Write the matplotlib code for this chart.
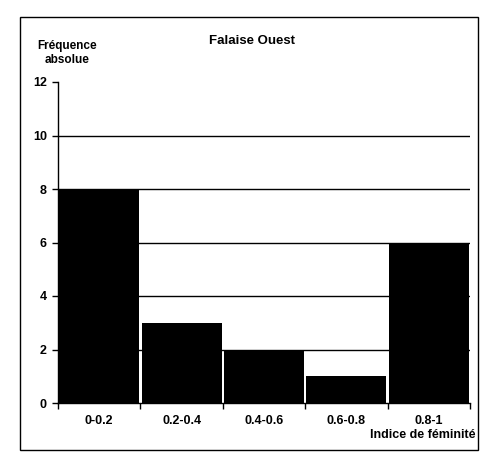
import matplotlib
matplotlib.use("Agg")
import matplotlib.pyplot as plt
from matplotlib.patches import Rectangle

categories = ["0-0.2", "0.2-0.4", "0.4-0.6", "0.6-0.8", "0.8-1"]
values = [8, 3, 2, 1, 6]
yticks = [0, 2, 4, 6, 8, 10, 12]

plt.rcParams['font.family'] = ['Liberation Sans', 'DejaVu Sans']

fig = plt.figure(figsize=(4.84, 4.53), dpi=100)
ax = fig.add_axes([58/484, 1-403/453, (470-58)/484, (403-82)/453])

x = list(range(len(categories)))
ax.bar(x, values, width=0.97, color='black', zorder=3)
ax.set_xlim(-0.5, len(categories) - 0.5)
ax.set_ylim(0, 12)
ax.set_yticks(yticks)
ax.set_yticklabels([str(v) for v in yticks], fontsize=9, fontweight='bold')
ax.set_xticks([i - 0.5 for i in range(len(categories) + 1)])
ax.set_xticklabels([])
ax.set_xticks(x, minor=True)
ax.set_xticklabels(categories, minor=True, fontsize=9, fontweight='bold')
ax.tick_params(axis='x', which='minor', length=0, pad=9)
ax.tick_params(axis='x', which='major', length=4, direction='out', width=1)
ax.tick_params(axis='y', length=4, direction='out', width=1, pad=4)
for v in yticks[1:-1]:
    ax.axhline(v, color='black', linewidth=1, zorder=1)
for s in ['top', 'right']:
    ax.spines[s].set_visible(False)
for s in ['left', 'bottom']:
    ax.spines[s].set_linewidth(1)

fig.text(252/484, 1-41/453, "Falaise Ouest", ha='center', va='center', fontsize=9.5,
         fontweight='bold')
fig.text(67/484, 1-53/453, "Fréquence\nabsolue", ha='center', va='center', fontsize=8.5,
         fontweight='bold', multialignment='center', linespacing=1.25)
fig.text(475/484, 1-435/453, "Indice de féminité", ha='right', va='center', fontsize=9,
         fontweight='bold')

fig.patches.append(Rectangle((20/484, 1-450/453), (478-20)/484, (450-17)/453,
                             transform=fig.transFigure, fill=False, edgecolor='black',
                             linewidth=1))

fig.savefig("out.png", dpi=100)
